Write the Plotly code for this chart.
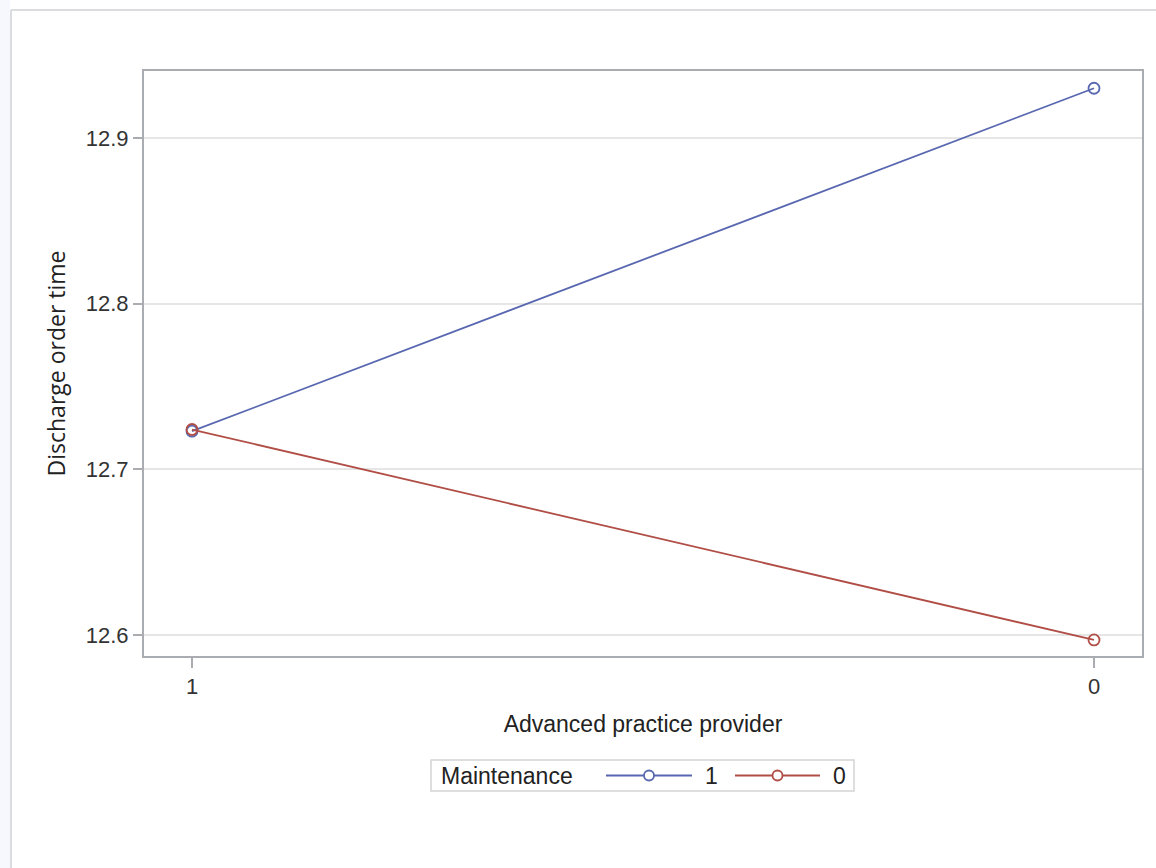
import plotly.graph_objects as go

# Interaction plot: discharge order time by advanced practice provider and maintenance group
provider_labels = ["1", "0"]
provider_pos = [0, 1]
maint_groups = ["1", "0"]
maint_values = {
    "1": [12.723, 12.930],
    "0": [12.724, 12.597],
}
maint_colors = {"1": "#5867B0", "0": "#B04E46"}
legend_title = "Maintenance"

W, H = 1156, 868
L, R, T, B = 144, 1142, 71, 656  # plot area in pixels


def px_x(p):
    return (p - L) / (R - L)


def px_y(p):
    return (B - p) / (B - T)


fig = go.Figure()
for g in maint_groups:
    fig.add_trace(go.Scatter(
        x=provider_pos,
        y=maint_values[g],
        mode="lines+markers",
        name=g,
        showlegend=False,
        line=dict(color=maint_colors[g], width=1.8),
        marker=dict(symbol="circle-open", size=11, color=maint_colors[g],
                    line=dict(width=1.8, color=maint_colors[g])),
    ))

font_main = "Liberation Sans, Arial, sans-serif"

shapes = [
    # light side strip and panel border
    dict(type="rect", xref="paper", yref="paper", layer="below",
         x0=px_x(0), x1=px_x(10), y0=px_y(H), y1=px_y(0),
         fillcolor="#F6F8FD", line=dict(width=0)),
    dict(type="line", xref="paper", yref="paper", layer="below",
         x0=px_x(11), x1=px_x(11), y0=px_y(H), y1=px_y(10),
         line=dict(color="#DADCE0", width=2)),
    dict(type="line", xref="paper", yref="paper", layer="below",
         x0=px_x(11), x1=px_x(W), y0=px_y(10), y1=px_y(10),
         line=dict(color="#DADCE0", width=2)),
    # legend frame
    dict(type="rect", xref="paper", yref="paper",
         x0=px_x(431), x1=px_x(854), y0=px_y(791), y1=px_y(760),
         fillcolor="white", line=dict(color="#D4D4D4", width=1.5)),
]
annotations = [
    dict(text=legend_title, xref="paper", yref="paper", x=px_x(439), y=px_y(775.5),
         xanchor="left", yanchor="middle", showarrow=False,
         font=dict(size=23, family=font_main, color="#222222")),
]

# legend keys: line sample with an open circle, then the group label
key_x = {"1": (606, 692), "0": (735, 820)}
for g in maint_groups:
    x0, x1 = key_x[g]
    xm = (x0 + x1) / 2
    shapes.append(dict(type="line", xref="paper", yref="paper",
                       x0=px_x(x0), x1=px_x(x1), y0=px_y(775.5), y1=px_y(775.5),
                       line=dict(color=maint_colors[g], width=1.8)))
    shapes.append(dict(type="circle", xref="paper", yref="paper",
                       x0=px_x(xm - 5), x1=px_x(xm + 5),
                       y0=px_y(780.5), y1=px_y(770.5),
                       fillcolor="white", line=dict(color=maint_colors[g], width=1.8)))
    annotations.append(dict(text=g, xref="paper", yref="paper",
                            x=px_x(x1 + 11), y=px_y(775.5),
                            xanchor="left", yanchor="middle", showarrow=False,
                            font=dict(size=23, family=font_main, color="#222222")))

fig.update_layout(
    width=W, height=H,
    margin=dict(l=L, r=W - R, t=T, b=H - B),
    paper_bgcolor="white",
    plot_bgcolor="white",
    font=dict(family=font_main, size=21, color="#222222"),
    showlegend=False,
    xaxis=dict(
        tickmode="array",
        tickvals=provider_pos,
        ticktext=provider_labels,
        range=[-48 / 902, 1 + 48 / 902],
        showgrid=False,
        zeroline=False,
        showline=True, linecolor="#A9ADB2", linewidth=2, mirror=True,
        ticks="outside", ticklen=10, tickwidth=2, tickcolor="#A9ADB2",
        tickfont=dict(size=22, family=font_main, color="#333333"),
        title=dict(text="Advanced practice provider", standoff=17,
                   font=dict(size=23, family=font_main, color="#222222")),
    ),
    yaxis=dict(
        tickmode="array",
        tickvals=[12.6, 12.7, 12.8, 12.9],
        ticktext=["12.6", "12.7", "12.8", "12.9"],
        range=[12.5873, 12.9404],
        showgrid=True, gridcolor="#E6E6E6", gridwidth=1.5,
        zeroline=False,
        showline=True, linecolor="#A9ADB2", linewidth=2, mirror=True,
        ticks="outside", ticklen=9, tickwidth=1.5, tickcolor="#A9ADB2",
        tickfont=dict(size=22, family=font_main, color="#333333"),
        title=dict(text="Discharge order time", standoff=14,
                   font=dict(size=23, family="Open Sans, sans-serif", color="#222222")),
    ),
    shapes=shapes,
    annotations=annotations,
)

fig.write_html("out.html")
